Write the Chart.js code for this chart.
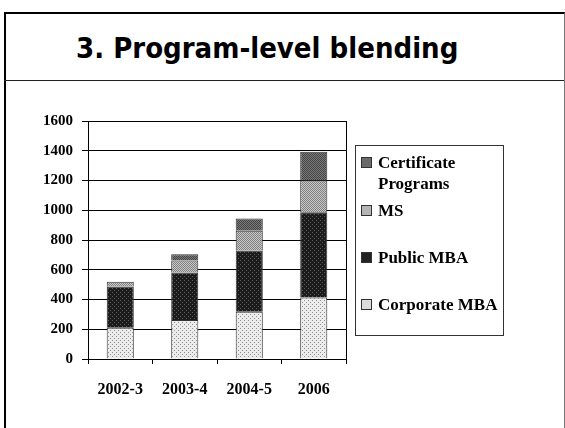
<!DOCTYPE html>
<html>
<head>
<meta charset="utf-8">
<script src="https://cdn.jsdelivr.net/npm/chart.js@4/dist/chart.umd.min.js"></script>
<style>
  html, body { margin: 0; padding: 0; background: #fff; }
  #page { position: relative; width: 565px; height: 428px; overflow: hidden; }
  #frame { position: absolute; left: 4px; top: 12px; width: 558px; height: 430px;
           border-left: 2px solid #000; border-top: 2px solid #000; border-right: 1px solid #777; }
  #rule { position: absolute; left: 4px; top: 80px; width: 560px; height: 0; border-top: 1px solid #222; }
  #title { position: absolute; left: 76px; top: 30px; font-family: "DejaVu Sans Condensed", "DejaVu Sans", sans-serif;
           font-weight: bold; font-size: 29px; line-height: 36px; color: #000; white-space: nowrap; }
  #chart { position: absolute; left: 0; top: 0; }
  #legend { position: absolute; left: 355px; top: 145px; width: 147px; height: 189px; border: 1px solid #333;
            font-family: "Liberation Serif", serif; font-weight: bold; font-size: 17px; color: #000; }
  .item { position: absolute; left: 5px; line-height: 21px; }
  .sw { position: absolute; left: 0; top: 5px; width: 9px; height: 9px; border: 1px solid #333; }
  .txt { position: absolute; left: 17px; top: 0; white-space: nowrap; }
</style>
</head>
<body>
<div id="page">
  <div id="frame"></div>
  <div id="rule"></div>
  <div id="title">3. Program-level blending</div>
  <canvas id="chart" width="565" height="428"></canvas>
  <div id="legend"></div>
</div>
<script>
// Values
const categories = ['2002-3', '2003-4', '2004-5', '2006'];
const corporateMBA = [210, 262, 318, 413];
const publicMBA = [277, 319, 411, 574];
const msPrograms = [33, 81, 133, 213];
const certificatePrograms = [0, 43, 82, 193];
const yTicks = [0, 200, 400, 600, 800, 1000, 1200, 1400, 1600];

// small halftone-like fills
function makePattern(base, dot, step) {
    const c = document.createElement('canvas');
    c.width = step; c.height = step;
    const g = c.getContext('2d');
    g.fillStyle = base;
    g.fillRect(0, 0, step, step);
    g.fillStyle = dot;
    g.fillRect(0, 0, 1, 1);
    g.fillRect(step / 2, step / 2, 1, 1);
    return g.createPattern(c, 'repeat');
}

const series = [
    { label: 'Corporate MBA', data: corporateMBA, fill: makePattern('#ececec', '#8f8f8f', 4), swatch: '#dcdcdc', legendTop: 148 },
    { label: 'Public MBA', data: publicMBA, fill: makePattern('#1c1c1c', '#5a5a5a', 4), swatch: '#222', legendTop: 101 },
    { label: 'MS', data: msPrograms, fill: makePattern('#c8c8c8', '#808080', 2), swatch: '#b4b4b4', legendTop: 54 },
    { label: 'Certificate Programs', data: certificatePrograms, fill: makePattern('#7a7a7a', '#444', 2), swatch: '#6a6a6a', legendTop: 6 }
];

// Legend built as HTML so "Certificate Programs" can wrap like the original
const legend = document.getElementById('legend');
series.forEach(s => {
    const item = document.createElement('div');
    item.className = 'item';
    item.style.top = s.legendTop + 'px';
    const sw = document.createElement('div');
    sw.className = 'sw';
    sw.style.background = s.swatch;
    const txt = document.createElement('div');
    txt.className = 'txt';
    txt.innerHTML = s.label === 'Certificate Programs' ? 'Certificate<br>Programs' : s.label;
    item.appendChild(sw);
    item.appendChild(txt);
    legend.appendChild(item);
});

const plotBorder = {
    id: 'plotBorder',
    afterDraw(chart) {
        const a = chart.chartArea;
        const ctx = chart.ctx;
        ctx.save();
        ctx.strokeStyle = '#000';
        ctx.lineWidth = 1;
        ctx.beginPath();
        ctx.moveTo(Math.round(a.right) + 0.5, a.top);
        ctx.lineTo(Math.round(a.right) + 0.5, a.bottom);
        ctx.stroke();
        ctx.restore();
    }
};

const yFont = { family: '"Liberation Serif", serif', size: 15, weight: 'bold' };
const xFont = { family: '"Liberation Serif", serif', size: 16, weight: 'bold' };

new Chart(document.getElementById('chart'), {
    type: 'bar',
    data: {
        labels: categories,
        datasets: series.map(s => ({
            label: s.label,
            data: s.data,
            backgroundColor: s.fill,
            borderColor: '#333',
            borderWidth: 1,
            barPercentage: 0.42,
            categoryPercentage: 1
        }))
    },
    options: {
        responsive: false,
        animation: false,
        layout: { padding: { left: 38, top: 121, right: 219, bottom: 19 } },
        scales: {
            x: {
                stacked: true,
                afterFit: scale => { scale.height = 50; },
                grid: { offset: true, drawOnChartArea: false, color: '#000', tickLength: 5 },
                border: { color: '#000' },
                ticks: { color: '#000', font: xFont, padding: 16 }
            },
            y: {
                stacked: true,
                min: 0,
                max: 1600,
                afterFit: scale => { scale.width = 50; },
                afterBuildTicks: scale => { scale.ticks = yTicks.map(v => ({ value: v })); },
                grid: { color: '#000', tickLength: 6 },
                border: { color: '#000' },
                ticks: { color: '#000', font: yFont, padding: 9, callback: v => String(v) }
            }
        },
        plugins: {
            legend: { display: false },
            tooltip: { enabled: false }
        }
    },
    plugins: [plotBorder]
});
</script>
</body>
</html>
